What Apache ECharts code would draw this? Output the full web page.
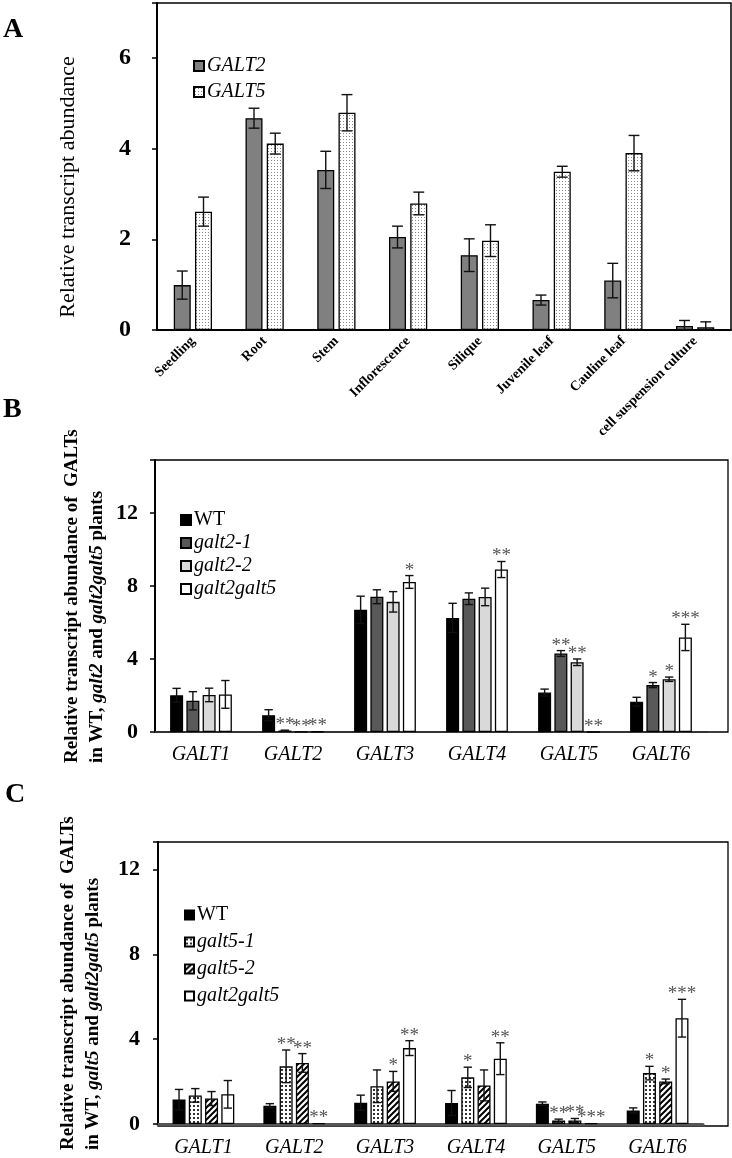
<!DOCTYPE html>
<html>
<head>
<meta charset="utf-8">
<script src="https://cdn.jsdelivr.net/npm/echarts@6/dist/echarts.min.js"></script>
<style>
html,body{margin:0;padding:0;background:#fff;}
#c{width:732px;height:1158px;}
</style>
</head>
<body>
<div id="c"></div>
<script>
// ---------- DATA ----------
const tissues = ['Seedling','Root','Stem','Inflorescence','Silique','Juvenile leaf','Cauline leaf','cell suspension culture'];
const galt2A    = [0.99, 4.67, 3.53, 2.05, 1.65, 0.66, 1.09, 0.09];
const galt2AErr = [0.31, 0.22, 0.41, 0.24, 0.36, 0.11, 0.38, 0.12];
const galt5A    = [2.61, 4.11, 4.79, 2.79, 1.97, 3.49, 3.90, 0.06];
const galt5AErr = [0.32, 0.23, 0.40, 0.25, 0.35, 0.12, 0.39, 0.12];
const ticksA = [0, 2, 4, 6];

const genes = ['GALT1','GALT2','GALT3','GALT4','GALT5','GALT6'];
const wtB     = [2.01, 0.92, 6.69, 6.25, 2.16, 1.66];
const wtBErr  = [0.38, 0.30, 0.75, 0.80, 0.19, 0.24];
const g21B    = [1.71, 0.08, 7.41, 7.30, 4.30, 2.57];
const g21BErr = [0.50, 0.02, 0.38, 0.32, 0.16, 0.14];
const g22B    = [2.03, 0.02, 7.13, 7.40, 3.82, 2.89];
const g22BErr = [0.37, 0.00, 0.56, 0.48, 0.18, 0.12];
const g25B    = [2.06, 0.03, 8.22, 8.90, 0.00, 5.18];
const g25BErr = [0.76, 0.00, 0.35, 0.44, 0.00, 0.72];
const starsWtB  = ['', '', '', '', '', ''];
const stars21B  = ['', '**', '', '', '**', '*'];
const stars22B  = ['', '**', '', '', '**', '*'];
const stars25B  = ['', '**', '*', '**', '**', '***'];
const ticksB = [0, 4, 8, 12];

const wtC     = [1.15, 0.86, 1.00, 0.99, 0.96, 0.64];
const wtCErr  = [0.48, 0.10, 0.36, 0.59, 0.08, 0.12];
const g51C    = [1.35, 2.72, 1.78, 2.20, 0.16, 2.40];
const g51CErr = [0.32, 0.77, 0.77, 0.48, 0.07, 0.32];
const g52C    = [1.20, 2.88, 2.01, 1.82, 0.17, 2.01];
const g52CErr = [0.33, 0.44, 0.47, 0.73, 0.09, 0.11];
const g25C    = [1.40, 0.03, 3.58, 3.08, 0.03, 4.99];
const g25CErr = [0.65, 0.00, 0.35, 0.75, 0.00, 0.89];
const starsWtC = ['', '', '', '', '', ''];
const stars51C = ['', '**', '', '*', '**', '*'];
const stars52C = ['', '**', '*', '', '**', '*'];
const stars25C = ['', '**', '**', '**', '***', '***'];
const ticksC = [0, 4, 8, 12];

// ---------- STYLE HELPERS ----------
const SERIF = "'Liberation Serif','Times New Roman',serif";

function makePattern(w, h, draw) {
  const cv = document.createElement('canvas');
  cv.width = w; cv.height = h;
  const ctx = cv.getContext('2d');
  ctx.fillStyle = '#fff'; ctx.fillRect(0, 0, w, h);
  draw(ctx);
  return { image: cv, repeat: 'repeat' };
}
const stipple = makePattern(3, 3, c => { c.fillStyle = '#8a8a8a'; c.fillRect(1, 1, 1, 1); });
const dots = makePattern(4, 4, c => { c.fillStyle = '#333'; c.fillRect(1, 1, 2, 2); });
const hatch = makePattern(6, 6, c => {
  c.strokeStyle = '#000'; c.lineWidth = 2;
  c.beginPath();
  c.moveTo(-1, 7); c.lineTo(7, -1);
  c.moveTo(-4, 4); c.lineTo(4, -4);
  c.moveTo(2, 10); c.lineTo(10, 2);
  c.stroke();
});

function barSeries(name, xi, vals, color, bw) {
  return {
    name, type: 'bar', xAxisIndex: xi, yAxisIndex: xi, data: vals,
    barWidth: bw, barGap: '25%',
    itemStyle: { color, borderColor: '#000', borderWidth: 1.3 },
    emphasis: { disabled: true }, z: 2
  };
}
function errSeries(xi, vals, errs, stars, idx, n, bw) {
  return {
    type: 'custom', xAxisIndex: xi, yAxisIndex: xi, silent: true, z: 5,
    data: vals.map((v, i) => [i, v, errs[i]]),
    renderItem: function (params, api) {
      const i = api.value(0), v = api.value(1), e = api.value(2);
      const off = (idx - (n - 1) / 2) * bw * 1.25;
      const pt = api.coord([i, v + e]);
      const pb = api.coord([i, Math.max(v - e, 0)]);
      const x = pt[0] + off;
      const cap = bw * 0.32;
      const ls = { stroke: '#111', lineWidth: 1.4 };
      const ch = [];
      if (e > 0) {
        ch.push({ type: 'line', shape: { x1: x, y1: pt[1], x2: x, y2: pb[1] }, style: ls });
        ch.push({ type: 'line', shape: { x1: x - cap, y1: pt[1], x2: x + cap, y2: pt[1] }, style: ls });
        ch.push({ type: 'line', shape: { x1: x - cap, y1: pb[1], x2: x + cap, y2: pb[1] }, style: ls });
      }
      const s = stars ? stars[params.dataIndex] : '';
      if (s) {
        ch.push({ type: 'text', style: {
          text: s, x: x, y: pt[1] - 5, textAlign: 'center', textVerticalAlign: 'middle',
          align: 'center', verticalAlign: 'middle',
          font: '19px ' + SERIF, fill: '#555'
        }});
      }
      return { type: 'group', children: ch };
    }
  };
}
function yAxisDef(gi, max, ticks, fs, margin, lineColor) {
  return {
    type: 'value', gridIndex: gi, min: 0, max: max, interval: ticks[1] - ticks[0],
    axisLine: { show: true, lineStyle: { color: lineColor || '#000', width: 2 } },
    axisTick: { show: true, inside: false, length: 5, lineStyle: { color: '#000', width: 1.5 } },
    splitLine: { show: false },
    axisLabel: {
      margin: margin, color: '#000', fontFamily: SERIF, fontWeight: 'bold', fontSize: fs,
      formatter: v => (ticks.indexOf(v) >= 0 ? String(v) : '')
    }
  };
}

// ---------- CHART ----------
const chart = echarts.init(document.getElementById('c'), null, { renderer: 'canvas' });

const option = {
  animation: false,
  backgroundColor: '#fff',
  grid: [
    { left: 157, top: 3, width: 574, height: 327, show: true, borderColor: '#000', borderWidth: 1.5, containLabel: false },
    { left: 155, top: 460, width: 552, height: 272 },
    { left: 158, top: 842, width: 545, height: 284 },
    { left: 155, top: 460, width: 573, height: 272, show: true, borderColor: '#000', borderWidth: 1.3 },
    { left: 158, top: 842, width: 570, height: 284, show: true, borderColor: '#000', borderWidth: 1.3 }
  ],
  xAxis: [
    { type: 'category', gridIndex: 0, data: tissues,
      axisLine: { lineStyle: { color: '#000', width: 2 } }, axisTick: { show: false },
      axisLabel: { interval: 0, rotate: 45, margin: 9, color: '#000', fontFamily: SERIF, fontWeight: 'bold', fontSize: 14 } },
    { type: 'category', gridIndex: 1, data: genes,
      axisLine: { lineStyle: { color: '#333', width: 2 } }, axisTick: { show: false },
      axisLabel: { interval: 0, margin: 13, color: '#000', fontFamily: SERIF, fontStyle: 'italic', fontSize: 20 } },
    { type: 'category', gridIndex: 2, data: genes,
      axisLine: { lineStyle: { color: '#555', width: 3 } }, axisTick: { show: false },
      axisLabel: { interval: 0, margin: 14, color: '#000', fontFamily: SERIF, fontStyle: 'italic', fontSize: 20 } },
    { type: 'value', gridIndex: 3, show: false },
    { type: 'value', gridIndex: 4, show: false }
  ],
  yAxis: [
    yAxisDef(0, 7.21, ticksA, 24, 26),
    yAxisDef(1, 14.9, ticksB, 22, 17),
    yAxisDef(2, 13.3, ticksC, 22, 18),
    { type: 'value', gridIndex: 3, show: false },
    { type: 'value', gridIndex: 4, show: false }
  ],
  legend: [
    { left: 188, top: 51, orient: 'vertical', itemWidth: 10, itemHeight: 10, itemGap: 6, icon: 'rect',
      selectedMode: false,
      textStyle: { fontFamily: SERIF, fontSize: 20, fontStyle: 'italic', color: '#000', padding: [0, 0, 0, -2] },
      data: ['GALT2', 'GALT5'] },
    { left: 175, top: 505, orient: 'vertical', itemWidth: 10, itemHeight: 10, itemGap: 3, icon: 'rect',
      selectedMode: false,
      textStyle: { fontFamily: SERIF, fontSize: 20, fontStyle: 'italic', color: '#000', padding: [0, 0, 0, -2] },
      data: [{ name: 'WT', textStyle: { fontStyle: 'normal' } }, 'galt2-1', 'galt2-2', 'galt2galt5'] },
    { left: 179, top: 900, orient: 'vertical', itemWidth: 9, itemHeight: 9, itemGap: 7, icon: 'rect',
      selectedMode: false,
      textStyle: { fontFamily: SERIF, fontSize: 20, fontStyle: 'italic', color: '#000', padding: [0, 0, 0, -2] },
      data: [{ name: 'WT', textStyle: { fontStyle: 'normal' } }, 'galt5-1', 'galt5-2', 'galt2galt5 '] }
  ],
  graphic: [
    { type: 'text', x: 3, y: 30, style: { text: 'A', font: 'bold 28px ' + SERIF, fill: '#000', textVerticalAlign: 'middle', verticalAlign: 'middle' } },
    { type: 'text', x: 3, y: 410, style: { text: 'B', font: 'bold 28px ' + SERIF, fill: '#000', textVerticalAlign: 'middle', verticalAlign: 'middle' } },
    { type: 'text', x: 5, y: 795, style: { text: 'C', font: 'bold 28px ' + SERIF, fill: '#000', textVerticalAlign: 'middle', verticalAlign: 'middle' } },
    { type: 'text', x: 68, y: 187, rotation: Math.PI / 2,
      style: { text: 'Relative transcript abundance', font: '22px ' + SERIF, fill: '#000',
        textAlign: 'center', align: 'center', textVerticalAlign: 'middle', verticalAlign: 'middle' } },
    { type: 'text', x: 72, y: 763, rotation: Math.PI / 2,
      style: { text: 'Relative transcript abundance of  GALTs', font: 'bold 19px ' + SERIF, fill: '#000',
        textAlign: 'left', align: 'left', textVerticalAlign: 'middle', verticalAlign: 'middle' } },
    { type: 'text', x: 97, y: 763, rotation: Math.PI / 2,
      style: { text: '{b|in WT, }{i|galt2}{b| and }{i|galt2galt5}{b| plants}', fill: '#000',
        textAlign: 'left', align: 'left', textVerticalAlign: 'middle', verticalAlign: 'middle',
        rich: { b: { font: 'bold 19px ' + SERIF, fill: '#000' }, i: { font: 'italic bold 19px ' + SERIF, fill: '#000' } } } },
    { type: 'text', x: 68, y: 1150, rotation: Math.PI / 2,
      style: { text: 'Relative transcript abundance of  GALTs', font: 'bold 19px ' + SERIF, fill: '#000',
        textAlign: 'left', align: 'left', textVerticalAlign: 'middle', verticalAlign: 'middle' } },
    { type: 'text', x: 93, y: 1150, rotation: Math.PI / 2,
      style: { text: '{b|in WT, }{i|galt5}{b| and }{i|galt2galt5}{b| plants}', fill: '#000',
        textAlign: 'left', align: 'left', textVerticalAlign: 'middle', verticalAlign: 'middle',
        rich: { b: { font: 'bold 19px ' + SERIF, fill: '#000' }, i: { font: 'italic bold 19px ' + SERIF, fill: '#000' } } } }
  ],
  series: [
    barSeries('GALT2', 0, galt2A, '#808080', 17),
    barSeries('GALT5', 0, galt5A, stipple, 17),
    errSeries(0, galt2A, galt2AErr, null, 0, 2, 17),
    errSeries(0, galt5A, galt5AErr, null, 1, 2, 17),

    barSeries('WT', 1, wtB, '#000', 13),
    barSeries('galt2-1', 1, g21B, '#595959', 13),
    barSeries('galt2-2', 1, g22B, '#d9d9d9', 13),
    barSeries('galt2galt5', 1, g25B, '#fff', 13),
    errSeries(1, wtB, wtBErr, starsWtB, 0, 4, 13),
    errSeries(1, g21B, g21BErr, stars21B, 1, 4, 13),
    errSeries(1, g22B, g22BErr, stars22B, 2, 4, 13),
    errSeries(1, g25B, g25BErr, stars25B, 3, 4, 13),

    barSeries('WT', 2, wtC, '#000', 13),
    barSeries('galt5-1', 2, g51C, dots, 13),
    barSeries('galt5-2', 2, g52C, hatch, 13),
    barSeries('galt2galt5 ', 2, g25C, '#fff', 13),
    errSeries(2, wtC, wtCErr, starsWtC, 0, 4, 13),
    errSeries(2, g51C, g51CErr, stars51C, 1, 4, 13),
    errSeries(2, g52C, g52CErr, stars52C, 2, 4, 13),
    errSeries(2, g25C, g25CErr, stars25C, 3, 4, 13)
  ]
};
chart.setOption(option);
</script>
</body>
</html>
